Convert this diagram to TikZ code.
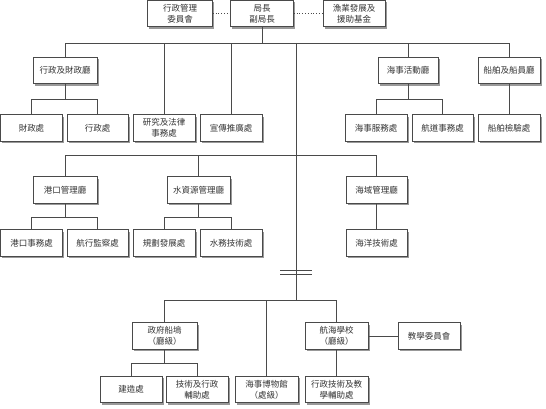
\documentclass[tikz,border=0pt]{standalone}
\usepackage{fontspec}
\newfontfamily\cjk{Noto Sans CJK TC}
\usetikzlibrary{shadows}
\definecolor{lc}{HTML}{4A4A4A}
\definecolor{tc}{HTML}{333333}
\tikzset{
  box/.style={draw=lc, fill=white, line width=0.7pt, minimum height=26.5pt, inner sep=0pt,
    align=center, text=tc, font=\cjk\fontsize{8.5}{11}\selectfont,
    drop shadow={shadow xshift=1.8pt, shadow yshift=-1.8pt, fill=black!40, opacity=1}},
  conn/.style={draw=lc, line width=0.75pt},
  dotconn/.style={draw=lc, line width=0.8pt, dotted}
}
\begin{document}
\begin{tikzpicture}[x=1pt,y=-1pt]
\useasboundingbox (0,0) rectangle (546,409);
% top row
\node[box, minimum width=65pt] (adm) at (180,13.5) {行政管理\\委員會};
\node[box, minimum width=63pt] (dir) at (262,13.5) {局長\\副局長};
\node[box, minimum width=62pt] (fish) at (354,13.5) {漁業發展及\\援助基金};
% row 2
\node[box, minimum width=64pt] (fin) at (65,70.5) {行政及財政廳};
\node[box, minimum width=60pt] (mar) at (408,70.5) {海事活動廳};
\node[box, minimum width=62pt] (ship) at (509,70.5) {船舶及船員廳};
\node[box, minimum width=62pt] (c1) at (31.5,128) {財政處};
\node[box, minimum width=61pt] (c2) at (97.5,128) {行政處};
\node[box, minimum width=62pt] (res) at (164,128) {研究及法律\\事務處};
\node[box, minimum width=62pt] (pub) at (231,128) {宣傳推廣處};
\node[box, minimum width=62pt] (ms) at (376,128) {海事服務處};
\node[box, minimum width=61pt] (nav) at (442.5,128) {航道事務處};
\node[box, minimum width=62pt] (insp) at (509,128) {船舶檢驗處};
% row 3
\node[box, minimum width=64pt] (port) at (65,190) {港口管理廳};
\node[box, minimum width=63pt] (water) at (198.5,190) {水資源管理廳};
\node[box, minimum width=61pt] (sea) at (376.5,190) {海域管理廳};
\node[box, minimum width=62pt] (p1) at (31.5,243) {港口事務處};
\node[box, minimum width=61pt] (p2) at (97.5,243) {航行監察處};
\node[box, minimum width=62pt] (w1) at (164,243) {規劃發展處};
\node[box, minimum width=62pt] (w2) at (231,243) {水務技術處};
\node[box, minimum width=61pt] (o1) at (376.5,243) {海洋技術處};
% bottom
\node[box, minimum width=65pt] (dock) at (164.5,336) {政府船塢\\（廳級）};
\node[box, minimum width=63pt] (school) at (336.5,336) {航海學校\\（廳級）};
\node[box, minimum width=62pt] (teach) at (429,336) {教學委員會};
\node[box, minimum width=62pt] (d1) at (131,389.5) {建造處};
\node[box, minimum width=62pt] (d2) at (197,389.5) {技術及行政\\輔助處};
\node[box, minimum width=63pt] (museum) at (266.5,389.5) {海事博物館\\（處級）};
\node[box, minimum width=63pt] (s1) at (336.5,389.5) {行政技術及教\\學輔助處};
% junction coordinates
\coordinate (j1) at (262,43);
\coordinate (t1) at (296,43);
\coordinate (t3) at (296,155);
\coordinate (t2) at (296,300);
\coordinate (b1) at (0,99);
\coordinate (b2) at (0,217);
\coordinate (b3) at (0,363);
\coordinate (bra) at (280,270);
\coordinate (brb) at (312,270);
\coordinate (brc) at (280,274);
\coordinate (brd) at (312,274);
% dotted links
\draw[dotconn] (adm.east) -- (dir.west);
\draw[dotconn] (dir.east) -- (fish.west);
% top bus
\draw[conn] (dir.south) -- (j1);
\draw[conn] (fin.north) -- (fin.north |- j1) -- (ship.north |- j1) -- (ship.north);
\draw[conn] (res.north) -- (res.north |- j1);
\draw[conn] (pub.north) -- (pub.north |- j1);
\draw[conn] (mar.north) -- (mar.north |- j1);
\draw[conn] (t1) -- (t2);
% row 2 subtrees
\draw[conn] (fin.south) -- (fin.south |- b1);
\draw[conn] (c1.north) -- (c1.north |- b1) -- (c2.north |- b1) -- (c2.north);
\draw[conn] (mar.south) -- (mar.south |- b1);
\draw[conn] (ms.north) -- (ms.north |- b1) -- (nav.north |- b1) -- (nav.north);
\draw[conn] (ship.south) -- (insp.north);
% row 3 bus
\draw[conn] (port.north) -- (port.north |- t3) -- (sea.north |- t3) -- (sea.north);
\draw[conn] (water.north) -- (water.north |- t3);
\draw[conn] (port.south) -- (port.south |- b2);
\draw[conn] (p1.north) -- (p1.north |- b2) -- (p2.north |- b2) -- (p2.north);
\draw[conn] (water.south) -- (water.south |- b2);
\draw[conn] (w1.north) -- (w1.north |- b2) -- (w2.north |- b2) -- (w2.north);
\draw[conn] (sea.south) -- (o1.north);
% break symbol
\draw[conn] (bra) -- (brb);
\draw[conn] (brc) -- (brd);
% bottom bus
\draw[conn] (dock.north) -- (dock.north |- t2) -- (school.north |- t2) -- (school.north);
\draw[conn] (museum.north) -- (museum.north |- t2);
\draw[conn] (school.east) -- (teach.west);
\draw[conn] (dock.south) -- (dock.south |- b3);
\draw[conn] (d1.north) -- (d1.north |- b3) -- (d2.north |- b3) -- (d2.north);
\draw[conn] (school.south) -- (s1.north);
\end{tikzpicture}
\end{document}
